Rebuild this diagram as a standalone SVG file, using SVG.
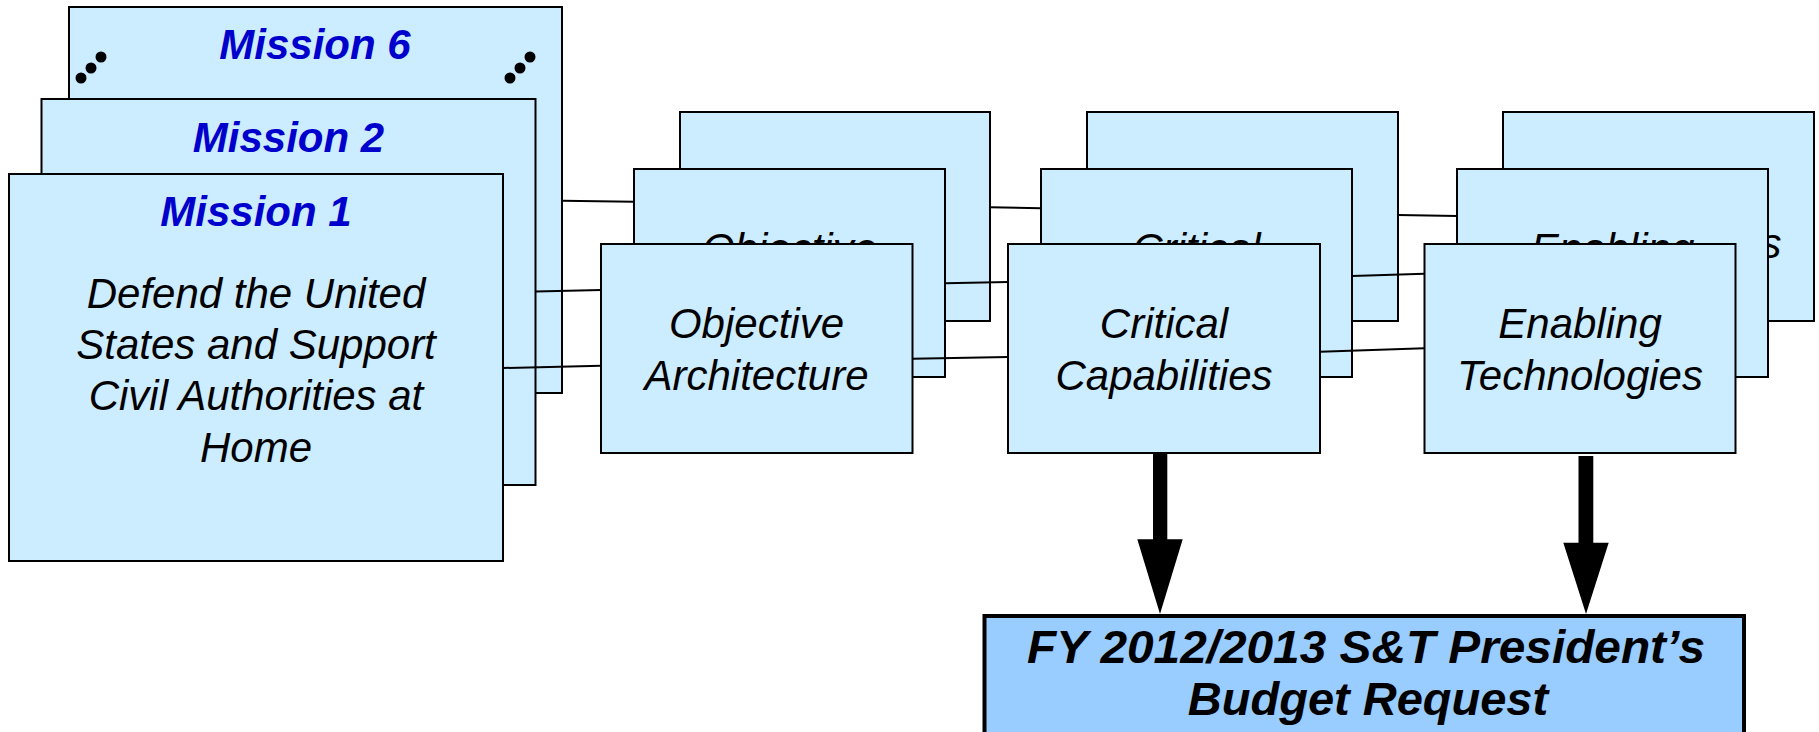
<svg xmlns="http://www.w3.org/2000/svg" width="1819" height="732" viewBox="0 0 1819 732">
  <style>
    .box { fill: #CCECFF; stroke: #000; stroke-width: 2; }
    .title { font-family: "Liberation Sans", Arial, sans-serif; font-size: 42px; font-weight: bold; font-style: italic; fill: #0000CC; text-anchor: middle; }
    .body { font-family: "Liberation Sans", Arial, sans-serif; font-size: 42px; font-style: italic; fill: #000; text-anchor: middle; }
    .budget { font-family: "Liberation Sans", Arial, sans-serif; font-size: 47px; font-weight: bold; font-style: italic; fill: #000; text-anchor: middle; }
    .link { stroke: #000; stroke-width: 2; fill: none; }
    .dot { fill: #000; }
    .arrow { fill: #000; }
  </style>

  <!-- Back layer -->
  <g id="mission-6">
    <rect class="box" x="69" y="7" width="493" height="386"/>
    <text class="title" x="315" y="59">Mission 6</text>
    <circle class="dot" cx="81" cy="78" r="5.5"/>
    <circle class="dot" cx="91" cy="68" r="5.5"/>
    <circle class="dot" cx="101" cy="57" r="5.5"/>
    <circle class="dot" cx="510" cy="78" r="5.5"/>
    <circle class="dot" cx="520" cy="68" r="5.5"/>
    <circle class="dot" cx="530" cy="57" r="5.5"/>
  </g>
  <g id="objective-back">
    <rect class="box" x="680" y="112" width="310" height="209"/>
    <text class="body" x="835" y="206">Objective</text>
    <text class="body" x="835" y="258">Architecture</text>
  </g>
  <g id="critical-back">
    <rect class="box" x="1087" y="112" width="311" height="209"/>
    <text class="body" x="1242.5" y="206">Critical</text>
    <text class="body" x="1242.5" y="258">Capabilities</text>
  </g>
  <g id="enabling-back">
    <rect class="box" x="1503" y="112" width="311" height="209"/>
    <text class="body" x="1658.5" y="206">Enabling</text>
    <text class="body" x="1658.5" y="258">Technologies</text>
  </g>

  <!-- Middle layer -->
  <g id="mission-2">
    <rect class="box" x="41.5" y="99" width="494" height="386"/>
    <text class="title" x="288.5" y="152">Mission 2</text>
  </g>
  <g id="objective-middle">
    <rect class="box" x="634" y="169" width="311" height="208"/>
    <text class="body" x="789.5" y="263">Objective</text>
    <text class="body" x="789.5" y="315">Architecture</text>
  </g>
  <g id="critical-middle">
    <rect class="box" x="1041" y="169" width="311" height="208"/>
    <text class="body" x="1196.5" y="263">Critical</text>
    <text class="body" x="1196.5" y="315">Capabilities</text>
  </g>
  <g id="enabling-middle">
    <rect class="box" x="1457" y="169" width="311" height="208"/>
    <text class="body" x="1612.5" y="263">Enabling</text>
    <text class="body" x="1612.5" y="315">Technologies</text>
  </g>

  <!-- Front layer -->
  <g id="mission-1">
    <rect class="box" x="9" y="174" width="494" height="387"/>
    <text class="title" x="256" y="226">Mission 1</text>
    <text class="body" x="256" y="308">Defend the United</text>
    <text class="body" x="256" y="359">States and Support</text>
    <text class="body" x="256" y="410">Civil Authorities at</text>
    <text class="body" x="256" y="462">Home</text>
  </g>
  <g id="objective-front">
    <rect class="box" x="601" y="244" width="311.5" height="209"/>
    <text class="body" x="756.5" y="338">Objective</text>
    <text class="body" x="756.5" y="390">Architecture</text>
  </g>
  <g id="critical-front">
    <rect class="box" x="1008" y="244" width="312" height="209"/>
    <text class="body" x="1164" y="338">Critical</text>
    <text class="body" x="1164" y="390">Capabilities</text>
  </g>
  <g id="enabling-front">
    <rect class="box" x="1424.5" y="244" width="311" height="209"/>
    <text class="body" x="1580" y="338">Enabling</text>
    <text class="body" x="1580" y="390">Technologies</text>
  </g>

  <!-- Budget request -->
  <g id="budget-request">
    <rect x="984.5" y="616" width="759.5" height="140" fill="#99CCFF" stroke="#000" stroke-width="4"/>
    <text class="budget" x="1366" y="663" textLength="678" lengthAdjust="spacingAndGlyphs">FY 2012/2013 S&amp;T President’s</text>
    <text class="budget" x="1368" y="715">Budget Request</text>
  </g>

  <!-- Connectors -->
  <g id="connectors">
    <line class="link" x1="562" y1="200.7" x2="634" y2="201.7"/>
    <line class="link" x1="535.5" y1="291.5" x2="601" y2="290"/>
    <line class="link" x1="503" y1="368" x2="601" y2="365.7"/>

    <line class="link" x1="990" y1="207.3" x2="1041" y2="208.3"/>
    <line class="link" x1="945" y1="283.3" x2="1008" y2="282"/>
    <line class="link" x1="912.5" y1="358.7" x2="1008" y2="357"/>

    <line class="link" x1="1398" y1="215" x2="1457" y2="216"/>
    <line class="link" x1="1352" y1="276" x2="1424.5" y2="273.7"/>
    <line class="link" x1="1320" y1="351.7" x2="1424.5" y2="348.3"/>

    <path class="arrow" d="M1153,454 H1167.3 V539.3 H1182.7 L1160,614 L1137.3,539.3 H1153 Z"/>
    <path class="arrow" d="M1578.5,456 H1593.3 V542.7 H1608.7 L1586,614 L1563.3,542.7 H1578.5 Z"/>
  </g>
</svg>
